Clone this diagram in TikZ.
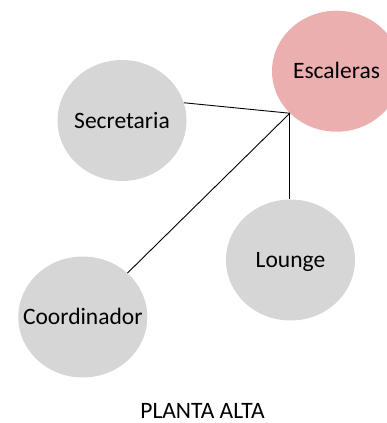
\documentclass[tikz,border=0pt]{standalone}
\usepackage{fontspec}
\setmainfont{Carlito}
\usepackage{tikz}
\usetikzlibrary{shapes.geometric}
\definecolor{salaGris}{HTML}{D6D6D6}
\definecolor{salaRosa}{HTML}{EBAFAF}

\begin{document}
\begin{tikzpicture}[x=1pt, y=-1pt,
    sala/.style={ellipse, fill=salaGris, draw=none, inner sep=0pt,
      minimum width=129pt, minimum height=121pt,
      font=\fontsize{23.5}{28}\selectfont, text height=15pt, text depth=0pt},
    enlace/.style={line width=0.9pt, black}]
  \useasboundingbox (0,0) rectangle (386,423);
  \node[sala, fill=salaRosa] (esc) at (336.5,71.2) {\makebox[0pt]{Escaleras}};
  \node[sala] (sec) at (122,120.5) {\makebox[0pt]{Secretaria}};
  \node[sala] (lou) at (290.5,260) {\makebox[0pt]{Lounge}};
  \node[sala] (coo) at (82.8,317) {\makebox[0pt]{Coordinador}};
  \coordinate (nudo) at (esc.222.5);
  \draw[enlace] (sec.16) -- (nudo);
  \draw[enlace] (nudo) -- (nudo |- lou.north);
  \draw[enlace] (coo) -- (nudo);
  \node[anchor=base, inner sep=0pt, font=\fontsize{23.5}{28}\selectfont] (titulo) at (202.5,418.5) {PLANTA ALTA};
\end{tikzpicture}
\end{document}
